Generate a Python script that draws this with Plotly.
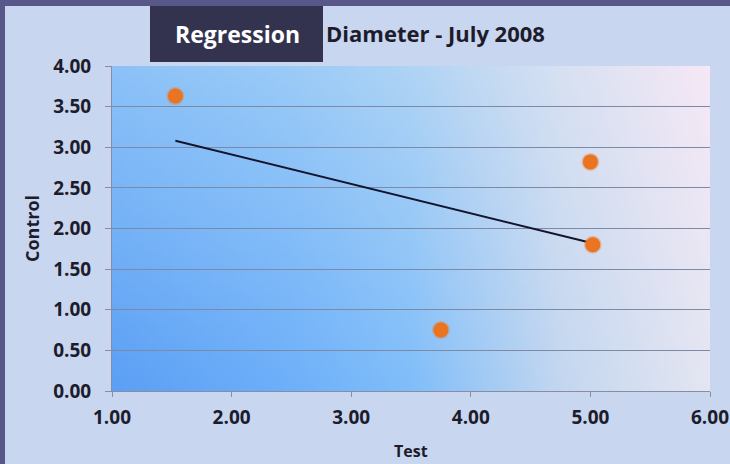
import base64, struct, zlib
import numpy as np
import plotly.graph_objects as go

# ---- data ----
test_values = [1.53, 3.75, 5.00, 5.02]
control_values = [3.63, 0.75, 2.82, 1.80]
x_tick_vals = [1, 2, 3, 4, 5, 6]
y_tick_vals = [0, 0.5, 1, 1.5, 2, 2.5, 3, 3.5, 4]
title_label = "Regression"
chart_title = "Diameter - July 2008"
x_title = "Test"
y_title = "Control"

# linear regression trendline from the data
slope, intercept = np.polyfit(test_values, control_values, 1)
trend_x = [min(test_values), max(test_values)]
trend_y = [slope * v + intercept for v in trend_x]


def png_data_uri(w, h, pixel_fn):
    raw = bytearray()
    for j in range(h):
        raw.append(0)
        for i in range(w):
            r, g, b = pixel_fn(i / (w - 1), 1 - j / (h - 1))
            raw += bytes((int(r), int(g), int(b)))
    def chunk(tag, data):
        c = struct.pack(">I", len(data)) + tag + data
        return c + struct.pack(">I", zlib.crc32(tag + data) & 0xffffffff)
    png = b"\x89PNG\r\n\x1a\n" + chunk(b"IHDR", struct.pack(">IIBBBBB", w, h, 8, 2, 0, 0, 0))
    png += chunk(b"IDAT", zlib.compress(bytes(raw), 9)) + chunk(b"IEND", b"")
    return "data:image/png;base64," + base64.b64encode(png).decode()


stops = [0.0, 0.3, 0.5, 0.62, 0.75, 1.0]
bottom_cols = np.array([[92, 160, 245], [110, 176, 250], [128, 190, 250],
                        [160, 202, 245], [195, 215, 240], [228, 230, 242]])
top_cols = np.array([[140, 194, 248], [155, 203, 247], [175, 212, 245],
                     [195, 218, 243], [215, 225, 242], [246, 232, 246]])


def grad(u, v):
    b = [np.interp(u, stops, bottom_cols[:, k]) for k in range(3)]
    t = [np.interp(u, stops, top_cols[:, k]) for k in range(3)]
    return tuple(b[k] * (1 - v) + t[k] * v for k in range(3))


bg_uri = png_data_uri(120, 50, grad)

fig = go.Figure()
fig.add_trace(go.Scatter(x=trend_x, y=trend_y, mode="lines",
                         line=dict(color="#14142e", width=2), showlegend=False,
                         hoverinfo="skip"))
fig.add_trace(go.Scatter(x=test_values, y=control_values, mode="markers",
                         marker=dict(color="#ea7420", size=15,
                                     line=dict(color="rgba(234,116,32,0.35)", width=3)),
                         showlegend=False))

W, H = 730, 464
L, R, T, B = 112, 20, 66, 73
pw, ph = W - L - R, H - T - B


def px(xp):
    return (xp - L) / pw


def py(yp):
    return (H - B - yp) / ph


fig.add_layout_image(dict(source=bg_uri, xref="x", yref="y", x=1, y=4, sizex=5, sizey=4,
                          sizing="stretch", layer="below"))

shapes = [
    dict(type="rect", xref="paper", yref="paper", x0=px(0), x1=px(W), y0=py(6), y1=py(0),
         fillcolor="#57578a", line=dict(width=0)),
    dict(type="rect", xref="paper", yref="paper", x0=px(0), x1=px(5), y0=py(H), y1=py(0),
         fillcolor="#57578a", line=dict(width=0)),
    dict(type="rect", xref="paper", yref="paper", x0=px(150), x1=px(323), y0=py(62), y1=py(6),
         fillcolor="#33334f", line=dict(width=0)),
]

annotations = [
    dict(text=f"<b>{title_label}</b>", xref="paper", yref="paper", x=px(237), y=py(34),
         xanchor="center", yanchor="middle",
         showarrow=False, font=dict(family="Open Sans", size=23, color="#ffffff")),
    dict(text=f"<b>{chart_title}</b>", xref="paper", yref="paper", x=px(324), y=py(33),
         xanchor="left", yanchor="middle", showarrow=False,
         font=dict(family="Open Sans", size=22, color="#1c1c2c")),
    dict(text=f"<b>{x_title}</b>", xref="paper", yref="paper", x=0.5, y=py(464),
         xanchor="center", yanchor="bottom", showarrow=False,
         font=dict(family="Open Sans", size=16, color="#1c1c2c")),
]

fig.update_layout(
    width=W, height=H,
    margin=dict(l=L, r=R, t=T, b=B, autoexpand=False),
    paper_bgcolor="#c9d6ef",
    plot_bgcolor="rgba(0,0,0,0)",
    shapes=shapes,
    annotations=annotations,
    xaxis=dict(range=[1, 6], tickvals=x_tick_vals, tickformat=".2f", showgrid=False,
               zeroline=False, showline=True, linecolor="#8c8ca0", linewidth=1,
               ticks="outside", ticklen=5, tickcolor="#8c8ca0", automargin=False,
               ticklabelstandoff=4,
               tickfont=dict(family="Open Sans", size=19, color="#1c1c2c", weight="bold")),
    yaxis=dict(range=[0, 4], tickvals=y_tick_vals, tickformat=".2f", showgrid=True,
               gridcolor="#7d8aa6", gridwidth=1, zeroline=False, showline=True,
               linecolor="#8c8ca0", linewidth=1, ticks="outside", ticklen=6,
               tickcolor="#8c8ca0", automargin=False, ticklabelstandoff=10,
               tickfont=dict(family="Open Sans", size=19, color="#1c1c2c", weight="bold"),
               title=dict(text=y_title, standoff=8,
                          font=dict(family="Open Sans", size=18, color="#1c1c2c", weight="bold"))),
)

fig.write_html("out.html", config={"displayModeBar": False},
               post_script="document.body.style.margin='0';document.body.style.overflow='hidden';")
